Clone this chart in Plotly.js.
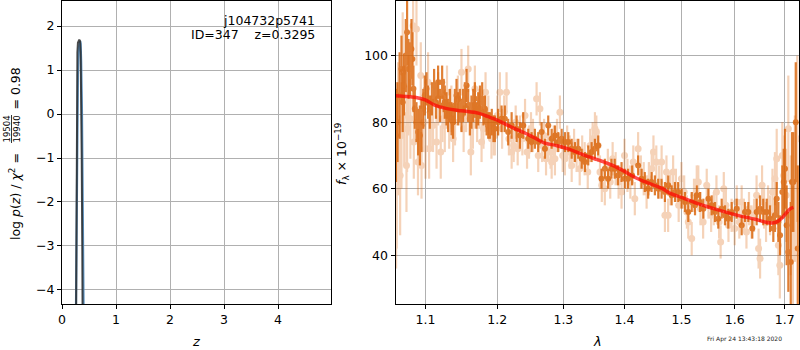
<!DOCTYPE html>
<html>
<head>
<meta charset="utf-8">
<script src="https://cdn.plot.ly/plotly-3.0.1.min.js"></script>
<style>html,body{margin:0;padding:0;background:#fff;}#chart{width:800px;height:350px;}</style>
</head>
<body>
<div id="chart"></div>
<script>
// ---- p(z) panel ----
var zBlue = [0.255,0.268,0.280,0.295,0.310,0.325,0.335,0.345,0.355,0.370,0.385,0.400,0.410];
var logpBlue = [-5.0,-3.0,-0.5,0.9,1.5,1.66,1.66,1.60,1.20,0.0,-2.0,-4.4,-6.0];
var zDark = [0.255,0.262,0.270,0.277,0.285,0.295,0.305,0.315,0.325,0.335,0.345,0.355,0.365,0.375,0.385];
var logpDark = [-6.0,-4.5,-1.5,1.19,1.40,1.62,1.68,1.68,1.68,1.66,1.40,0.60,-1.0,-3.0,-5.5];
var zTicks = [0,1,2,3,4];
var logpTicks = [-4,-3,-2,-1,0,1,2];

// ---- spectrum panel: dark (primary) points ----
var darkLam = [1.0613,1.0633,1.0660,1.0684,1.0700,1.0717,1.0740,1.0757,1.0775,1.0793,1.0814,1.0826,1.0840,1.0858,1.0880,1.0902,1.0925,1.0947,1.0970,1.0990,
1.1013,1.1035,1.1057,1.1085,1.1115,1.1140,1.1169,1.1195,1.1224,1.1245,1.1260,1.1283,1.1305,1.1330,1.1352,1.1374,1.1398,1.1421,1.1445,1.1467,
1.1490,1.1513,1.1537,1.1561,1.1584,1.1607,1.1630,1.1655,1.1678,1.1700,1.1725,1.1750,1.1782,1.1800,1.1821,1.1845,1.1868,1.1892,1.1920,1.1945,
1.1964,1.2012,1.2062,1.2110,1.2159,1.2210,1.2284,1.2333,1.2383,1.2458,1.2509,1.2559,1.2610,1.2662,1.2713,1.2764,1.2817,1.2868,1.2920,1.2973,
1.3025,1.3078,1.3132,1.3184,1.3237,1.3292,1.3345,1.3398,1.3453,1.3507,1.3561,1.3615,1.3670,1.3725,1.3780,1.3835,1.3890,1.3950,1.4005,1.4060,
1.4130,1.4233,1.4292,1.4349,1.4407,1.4467,1.4525,1.4584,1.4644,1.4703,1.4762,1.4823,1.4883,1.4942,1.5004,1.5064,1.5125,1.5188,1.5249,1.5281,
1.5342,1.5404,1.5498,1.5560,1.5623,1.5685,1.5750,1.5813,1.5876,1.5942,1.6039,1.6136,1.6201,1.6266,1.6345,1.6432,1.6498,1.6564,1.6633,1.6700,
1.6767,1.6800,1.6836,1.6870,1.6904,1.6951,1.6980,1.7006,1.7040,1.7075,1.7125,1.7150,1.7179,1.7229,1.7271];
var darkFlux = [76,80,88,96,86,91,100,107,96,96,102,99,90,84,80,77,76,79,84,88,
90,86,83,87,91,86,92,85,92,88,86,84,82,85,81,80,85,88,84,85,
82,85,87,91,85,81,83,85,87,82,84,86,87,83,84,80,79,79,80,78,
78,80,81,81,77,79,78,76,79,75,74,75,74,77,72,79,75,76,74,75,
74,74,72,71,72,69,68,70,71,72,73,63,66,63,66,66,64,65,63,63,
64,67,63,62,60,62,61,60,60,59,61,58,59,59,57,56,53,56,55,58,
56,54,57,55,53,51,54,52,51,53,54,49,53,53,48,53,54,53,53,51,
48,52,57,50,46,59,62,66,49,41,38,62,62,80,42];
var darkErr = [14,12,13,10,9,9,11,10,9,8,9,8,7,6,6,7,9,8,6,6,
5,5,5,5,5,5,5,5,5,5,5,5,5,5,5,5,5,5,5,5,
5,5,5,5,5,5,5,5,5,4,5,5,5,4,4,4,4,4,4,4,
4,4,4,4,4,4,4,4,4,3,3,3,3,3,3,3,3,3,3,3,
3,3,3,3,3,3,3,3,3,3,3,3,3,3,3,3,3,3,3,3,
3,3,3,3,3,3,3,3,3,3,3,3,3,3,3,3,3,3,3,3,
3,3,3,3,3,3,3,3,3,3,3,3,3,3,3,4,4,4,4,4,
4,5,5,6,6,8,10,12,12,12,18,15,15,18,25];

// ---- spectrum panel: light (secondary) points ----
var lightLam = [1.0615,1.0622,1.0640,1.0667,1.0684,1.0700,1.0720,1.0749,1.0757,1.0775,1.0800,1.0836,1.0845,1.0880,1.0900,1.0937,1.0947,1.0975,1.1000,1.1034,
1.1048,1.1070,1.1100,1.1148,1.1170,1.1205,1.1230,1.1260,1.1290,1.1320,1.1350,1.1374,1.1400,1.1440,1.1490,1.1520,1.1555,1.1584,1.1621,1.1650,
1.1678,1.1710,1.1740,1.1773,1.1800,1.1830,1.1870,1.1915,1.1945,1.1964,1.2000,1.2037,1.2070,1.2100,1.2135,1.2170,1.2210,1.2240,1.2270,1.2300,
1.2333,1.2370,1.2410,1.2440,1.2470,1.2500,1.2530,1.2585,1.2610,1.2636,1.2670,1.2700,1.2730,1.2760,1.2800,1.2817,1.2850,1.2868,1.2900,1.2946,
1.2990,1.3025,1.3060,1.3100,1.3132,1.3170,1.3210,1.3260,1.3300,1.3340,1.3390,1.3430,1.3470,1.3507,1.3530,1.3560,1.3590,1.3620,1.3670,1.3720,
1.3760,1.3800,1.3850,1.3900,1.3950,1.4000,1.4050,1.4100,1.4150,1.4176,1.4233,1.4280,1.4330,1.4380,1.4420,1.4470,1.4500,1.4550,1.4600,1.4644,
1.4703,1.4730,1.4760,1.4800,1.4850,1.4900,1.4950,1.5000,1.5050,1.5100,1.5125,1.5188,1.5230,1.5281,1.5310,1.5350,1.5400,1.5467,1.5500,1.5550,
1.5600,1.5650,1.5700,1.5730,1.5790,1.5830,1.5880,1.5940,1.6000,1.6040,1.6090,1.6136,1.6180,1.6230,1.6280,1.6330,1.6380,1.6430,1.6470,1.6500,
1.6540,1.6580,1.6620,1.6660,1.6700,1.6750,1.6800,1.6836,1.6870,1.6900,1.6951,1.6980,1.7030,1.7075,1.7125,1.7170,1.7210,1.7260];
var lightFlux = [64,64,78,64,76,95,82,67,78,88,81,109,74,108,68,94,67,80,72,92,
72,80,79,74,87,71,81,79,89,79,84,75,80,87,95,78,84,96,71,79,
90,80,84,74,78,89,82,75,76,76,82,89,78,83,89,75,71,73,80,72,
77,75,82,71,74,78,76,87,70,84,73,76,69,74,71,68,74,69,76,83,
70,69,74,71,67,73,70,66,71,69,65,73,75,78,77,73,65,61,60,67,
62,69,66,62,59,70,64,62,68,57,72,65,63,59,63,66,71,68,62,68,
52,65,52,60,65,61,55,63,59,53,50,45,58,62,62,54,50,61,56,52,
54,59,50,44,60,55,49,52,48,56,50,56,52,47,54,50,52,58,42,39,
61,54,50,55,52,59,63,69,43,37,70,64,58,78,52,40,60,75];
var lightErr = [28,22,20,18,16,18,15,14,13,12,12,12,11,11,10,10,10,9,9,9,
9,8,8,8,8,8,7,8,8,7,7,7,7,7,7,7,7,7,7,7,
7,6,6,6,6,6,6,6,6,6,6,6,6,5,6,5,5,5,5,5,
5,5,5,5,5,5,5,5,5,5,5,5,5,5,5,5,5,5,5,5,
5,5,5,5,5,5,5,5,5,5,5,5,5,5,5,5,5,5,5,5,
5,5,5,5,5,5,5,5,5,5,5,5,5,5,5,5,5,5,5,5,
5,5,5,5,5,5,5,5,5,5,5,5,5,5,5,5,5,5,5,5,
5,5,5,5,5,5,5,5,5,5,5,5,5,5,5,5,5,6,6,6,
6,6,6,6,6,7,8,9,9,10,10,12,14,16,18,20,22,25];

// ---- spectrum panel: model ----
var modelLam = [1.0607,1.07,1.08,1.0858,1.0996,1.1115,1.126,1.149,1.1725,1.186,1.20,1.22,1.24,1.255,1.27,1.29,1.31,1.33,1.35,1.36,1.38,1.40,1.42,1.435,1.465,1.48,1.50,1.53,1.56,1.60,1.64,1.66,1.675,1.685,1.695,1.705,1.712,1.718];
var modelFlux = [87.9,87.8,87.6,87.5,86.7,85.2,84.2,83.4,82.7,81.7,80.6,78.6,76.8,75.3,73.8,72.9,71.8,70.3,69.0,68.4,67.0,65.2,63.2,62.1,60.1,58.6,57.4,55.5,54.0,52.2,50.8,50.0,49.7,50.1,51.3,53.0,54.0,54.4];

var lamTicks = [1.1,1.2,1.3,1.4,1.5,1.6,1.7];
var lamTickText = ['1.1','1.2','1.3','1.4','1.5','1.6','1.7'];
var fluxTicks = [40,60,80,100];

var orange = '#d95f02';
var FONT = 'DejaVu Sans, sans-serif';
var FS = 12.5;

var traces = [
  {x: zBlue, y: logpBlue, xaxis:'x', yaxis:'y', mode:'lines', line:{color:'#5b93c4', width:2.2}, hoverinfo:'skip'},
  {x: zDark, y: logpDark, xaxis:'x', yaxis:'y', mode:'lines', line:{color:'rgba(45,45,45,0.85)', width:2}, hoverinfo:'skip'},
  {x: lightLam, y: lightFlux, xaxis:'x2', yaxis:'y2', mode:'markers', opacity:0.28,
   marker:{color:orange, size:7},
   error_y:{type:'data', array:lightErr, visible:true, color:orange, thickness:2.2, width:0}},
  {x: darkLam, y: darkFlux, xaxis:'x2', yaxis:'y2', mode:'markers', opacity:0.8,
   marker:{color:orange, size:6},
   error_y:{type:'data', array:darkErr, visible:true, color:orange, thickness:2.2, width:0}},
  {x: modelLam, y: modelFlux, xaxis:'x2', yaxis:'y2', mode:'lines', line:{color:'rgba(255,0,0,0.7)', width:3.5, shape:'spline'}}
];

function ax(extra){
  var base = {showgrid:true, gridcolor:'#b0b0b0', gridwidth:1, zeroline:false,
    showline:true, linecolor:'#000', linewidth:1, mirror:true,
    ticks:'outside', ticklen:4, tickwidth:1, tickcolor:'#000',
    tickfont:{family:FONT, size:FS, color:'#000'}, fixedrange:true};
  for (var k in extra) base[k] = extra[k];
  return base;
}
function px(x){return x/800;}
function py(y){return 1 - y/350;}
var TXT = {family:FONT, size:FS, color:'#000'};

var layout = {
  width:800, height:350, margin:{l:0,r:0,t:0,b:0},
  paper_bgcolor:'#fff', plot_bgcolor:'#fff', showlegend:false,
  xaxis: ax({domain:[62/800, 331/800], range:[0,4.98], tickvals:zTicks, anchor:'y'}),
  yaxis: ax({domain:[1-304/350, 1-1/350], range:[-4.32,2.57], tickvals:logpTicks, anchor:'x'}),
  xaxis2: ax({domain:[395.5/800, 799/800], type:'log', range:[Math.log10(1.0607), Math.log10(1.7297)], tickvals:lamTicks, ticktext:lamTickText, anchor:'y2'}),
  yaxis2: ax({domain:[1-304/350, 1-1/350], range:[25.35,116.4], tickvals:fluxTicks, anchor:'x2'}),
  annotations: [
    {xref:'paper', yref:'paper', x:px(317), y:py(20), xanchor:'right', yanchor:'middle', showarrow:false, text:'j104732p5741', font:TXT},
    {xref:'paper', yref:'paper', x:px(317), y:py(34), xanchor:'right', yanchor:'middle', showarrow:false, text:'ID=347\u00a0\u00a0\u00a0\u00a0z=0.3295', font:TXT},
    {xref:'paper', yref:'paper', x:px(15), y:py(197), xanchor:'center', yanchor:'middle', showarrow:false, textangle:-90, text:'log <i>p</i>(<i>z</i>) / <i>χ</i><sup>2</sup> =', font:TXT},
    {xref:'paper', yref:'paper', x:px(6.5), y:py(129), xanchor:'center', yanchor:'middle', showarrow:false, textangle:-90, text:'19504', font:{family:FONT, size:8.5, color:'#000'}},
    {xref:'paper', yref:'paper', x:px(16.5), y:py(129), xanchor:'center', yanchor:'middle', showarrow:false, textangle:-90, text:'19940', font:{family:FONT, size:8.5, color:'#000'}},
    {xref:'paper', yref:'paper', x:px(15.5), y:py(89), xanchor:'center', yanchor:'middle', showarrow:false, textangle:-90, text:'= 0.98', font:TXT},
    {xref:'paper', yref:'paper', x:px(342), y:py(154), xanchor:'center', yanchor:'middle', showarrow:false, textangle:-90, text:'<i>f</i><sub>λ</sub> × 10<sup>−19</sup>', font:TXT},
    {xref:'paper', yref:'paper', x:px(196), y:py(341), xanchor:'center', yanchor:'middle', showarrow:false, text:'<i>z</i>', font:{family:FONT, size:13, color:'#000'}},
    {xref:'paper', yref:'paper', x:px(597), y:py(341), xanchor:'center', yanchor:'middle', showarrow:false, text:'<i>λ</i>', font:{family:FONT, size:13, color:'#000'}},
    {xref:'paper', yref:'paper', x:px(744.5), y:py(339), xanchor:'center', yanchor:'middle', showarrow:false, text:'Fri Apr 24 13:43:18 2020', font:{family:FONT, size:6, color:'#222'}}
  ],
  shapes: [
    {type:'line', xref:'paper', yref:'paper', x0:px(11.5), x1:px(11.5), y0:py(115), y1:py(143), line:{color:'#000', width:0.8}}
  ]
};

Plotly.newPlot('chart', traces, layout, {displayModeBar:false, staticPlot:true});
</script>
</body>
</html>
